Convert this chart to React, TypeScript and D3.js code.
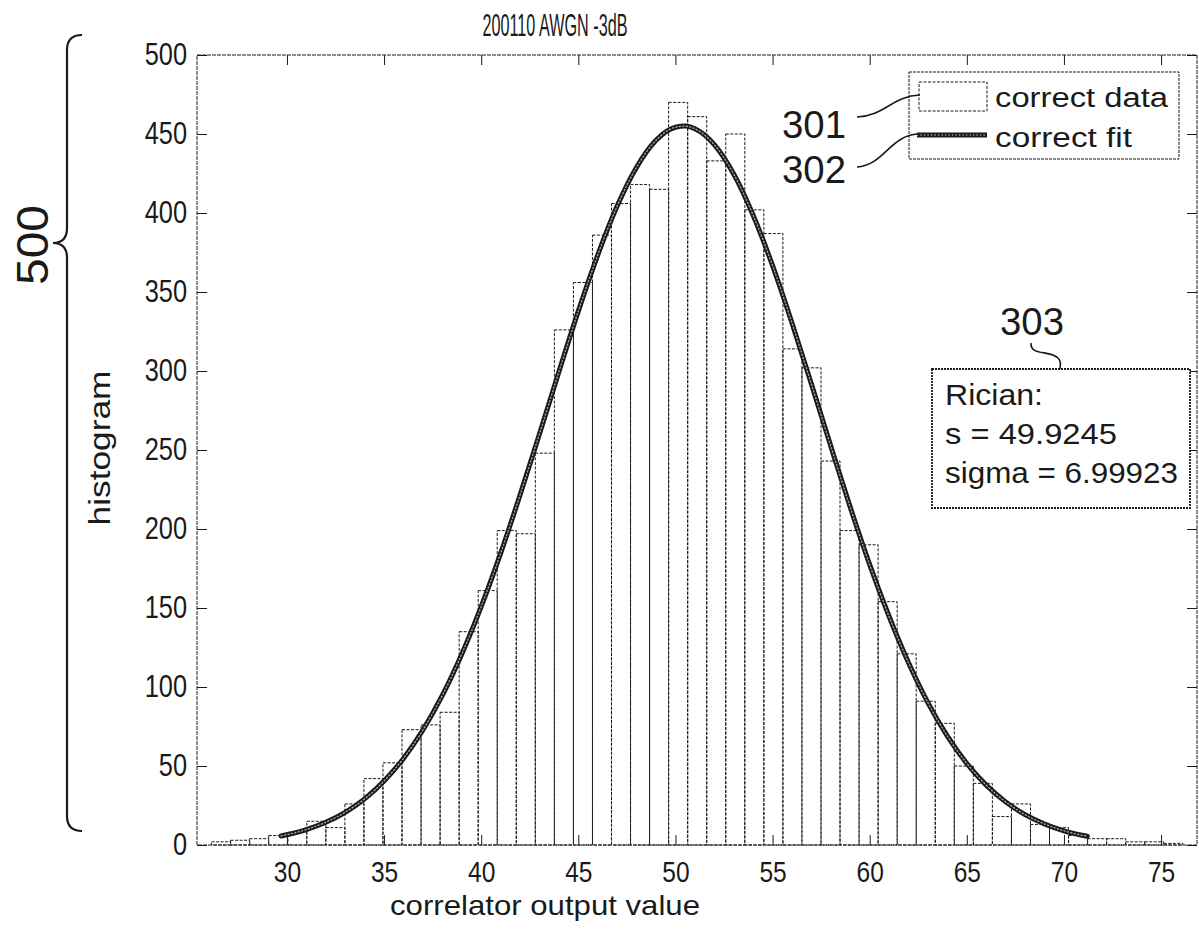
import React, { useEffect, useRef } from 'react';
import * as d3 from 'd3';

// chart text
const title = '200110 AWGN -3dB';
const xLabel = 'correlator output value';
const yLabel = 'histogram';
const braceLabel = '500';
const legendLabels = ['correct data', 'correct fit'];
const calloutLabels = ['301', '302', '303'];
const ricianLines = ['Rician:', 's = 49.9245', 'sigma = 6.99923'];

// axes
const xTicks = [30, 35, 40, 45, 50, 55, 60, 65, 70, 75];
const yTicks = [0, 50, 100, 150, 200, 250, 300, 350, 400, 450, 500];
const xDomain = [25.37, 76.85];
const yDomain = [0, 500];

// histogram: 51 equal bins starting at binStart
const binStart = 26.12;
const binWidth = 0.9804;
const counts = [
  2, 3, 4, 6, 8, 15, 11, 26, 42, 52,
  73, 76, 84, 135, 161, 199, 197, 248, 326, 356,
  386, 406, 418, 415, 470, 461, 433, 450, 402, 387,
  314, 302, 243, 199, 190, 154, 121, 91, 77, 50,
  39, 18, 26, 13, 11, 6, 4, 4, 2, 2, 1,
];

// fitted curve
const fitX = [
  29.7, 31, 32, 33, 34, 35, 36, 37, 38, 39, 40, 41, 42, 43, 44, 45, 46, 47, 48, 49, 50,
  50.5, 51, 52, 53, 54, 55, 56, 57, 58, 59, 60, 61, 62, 63, 64, 65, 66, 67, 68, 69, 70, 71, 71.2,
];
const fitY = [
  5.7, 9.8, 14.4, 20.7, 29.2, 40.5, 54.8, 72.8, 94.7, 120.8, 150.9, 184.6, 221.5, 260.2, 299.5,
  337.9, 373.4, 404.4, 429, 446, 454.3, 455, 453.3, 443.3, 424.7, 398.6, 366.7, 330.4, 291.7,
  252.3, 213.7, 177.4, 144.6, 115.3, 90, 68.9, 51.6, 37.9, 27.3, 19.2, 13.3, 9, 6, 5.5,
];

const W = 1199;
const H = 931;
const box = { left: 197, top: 55, right: 1197, bottom: 845 };
const ink = '#1a1a1a';
const sans = "'Liberation Sans', Arial, sans-serif";

// the drawing uses a tall, condensed face: squeeze plain sans to a fixed width
const narrowLen = (s: string, size: number) => s.length * size * 0.455;

function fitStroke(sel: d3.Selection<any, any, any, any>) {
  // thick line made of tiny circle markers
  sel.attr('stroke', ink).attr('stroke-width', 5);
  sel.clone()
    .attr('stroke', '#a8a8a8').attr('stroke-width', 1.3)
    .attr('stroke-dasharray', '1.2,2.3');
}

export default function App() {
  const ref = useRef<SVGSVGElement>(null);

  useEffect(() => {
    const svg = d3.select(ref.current);
    svg.selectAll('*').remove();

    const x = d3.scaleLinear().domain(xDomain).range([box.left, box.right]);
    const y = d3.scaleLinear().domain(yDomain).range([box.bottom, box.top]);

    svg.append('rect').attr('width', W).attr('height', H).attr('fill', '#fff');

    // histogram bars
    svg.append('g')
      .selectAll('rect')
      .data(counts)
      .join('rect')
      .attr('x', (_, i) => x(binStart + i * binWidth))
      .attr('width', (_, i) => x(binStart + (i + 1) * binWidth) - x(binStart + i * binWidth))
      .attr('y', d => y(d))
      .attr('height', d => y(0) - y(d))
      .attr('fill', 'none')
      .attr('stroke', ink)
      .attr('stroke-width', 1)
      .attr('stroke-dasharray', '3,1.5');

    // fit curve
    const line = d3.line<number>()
      .x((_, i) => x(fitX[i]))
      .y(d => y(d))
      .curve(d3.curveMonotoneX);
    const fit = svg.append('path')
      .attr('d', line(fitY))
      .attr('fill', 'none')
      .attr('stroke-linecap', 'round');
    fitStroke(fit);

    // axes
    const axisStyle = (g: d3.Selection<SVGGElement, unknown, null, undefined>) => {
      g.select('.domain').remove();
      g.selectAll('.tick line').attr('stroke', ink).attr('stroke-width', 1);
    };

    svg.append('g')
      .attr('transform', `translate(${box.left},0)`)
      .call(d3.axisLeft(y).tickValues(yTicks).tickSizeInner(-10).tickSizeOuter(0).tickPadding(10))
      .call(axisStyle)
      .selectAll<SVGTextElement, number>('text')
      .attr('font-family', sans)
      .attr('font-size', 31)
      .attr('textLength', d => narrowLen(String(d), 31))
      .attr('lengthAdjust', 'spacingAndGlyphs')
      .attr('fill', ink);

    svg.append('g')
      .attr('transform', `translate(${box.right},0)`)
      .call(d3.axisRight(y).tickValues(yTicks).tickSizeInner(-10).tickSizeOuter(0).tickFormat(() => ''))
      .call(axisStyle);

    svg.append('g')
      .attr('transform', `translate(0,${box.bottom})`)
      .call(d3.axisBottom(x).tickValues(xTicks).tickSizeInner(-10).tickSizeOuter(0).tickPadding(16))
      .call(axisStyle)
      .selectAll<SVGTextElement, number>('text')
      .attr('font-family', sans)
      .attr('font-size', 29)
      .attr('textLength', d => narrowLen(String(d), 30))
      .attr('lengthAdjust', 'spacingAndGlyphs')
      .attr('fill', ink);

    svg.append('g')
      .attr('transform', `translate(0,${box.top})`)
      .call(d3.axisTop(x).tickValues(xTicks).tickSizeInner(-10).tickSizeOuter(0).tickFormat(() => ''))
      .call(axisStyle);

    svg.append('rect')
      .attr('x', box.left).attr('y', box.top)
      .attr('width', box.right - box.left).attr('height', box.bottom - box.top)
      .attr('fill', 'none').attr('stroke', ink).attr('stroke-width', 1)
      .attr('stroke-dasharray', '4,1');

    // title and axis labels
    svg.append('text')
      .attr('x', 555).attr('y', 36)
      .attr('text-anchor', 'middle')
      .attr('font-family', sans).attr('font-size', 31)
      .attr('textLength', 145).attr('lengthAdjust', 'spacingAndGlyphs')
      .attr('fill', ink)
      .text(title);

    svg.append('text')
      .attr('x', 545).attr('y', 915)
      .attr('text-anchor', 'middle')
      .attr('font-family', sans).attr('font-size', 28)
      .attr('textLength', 310).attr('lengthAdjust', 'spacingAndGlyphs')
      .attr('fill', ink)
      .text(xLabel);

    svg.append('text')
      .attr('transform', 'translate(110,448) rotate(-90)')
      .attr('text-anchor', 'middle')
      .attr('font-family', sans).attr('font-size', 29)
      .attr('textLength', 155).attr('lengthAdjust', 'spacingAndGlyphs')
      .attr('fill', ink)
      .text(yLabel);

    // brace spanning the y range
    svg.append('path')
      .attr('d', 'M82,35 Q67,35 67,50 L67,228 Q67,243 53,243 Q67,243 67,258 L67,816 Q67,831 82,831')
      .attr('fill', 'none').attr('stroke', ink).attr('stroke-width', 2.2);
    svg.append('text')
      .attr('transform', 'translate(48,245) rotate(-90)')
      .attr('text-anchor', 'middle')
      .attr('font-family', sans).attr('font-size', 44)
      .attr('textLength', 80).attr('lengthAdjust', 'spacingAndGlyphs')
      .attr('fill', ink)
      .text(braceLabel);

    // legend
    const lg = svg.append('g');
    lg.append('rect')
      .attr('x', 909).attr('y', 72).attr('width', 270).attr('height', 87)
      .attr('fill', '#fff').attr('stroke', ink).attr('stroke-dasharray', '3,1');
    lg.append('rect')
      .attr('x', 919).attr('y', 82).attr('width', 68).attr('height', 29)
      .attr('fill', 'none').attr('stroke', ink).attr('stroke-dasharray', '3,1.5');
    const legLine = lg.append('path')
      .attr('d', 'M917,135 L987,135').attr('fill', 'none');
    fitStroke(legLine);
    lg.selectAll('text.leg')
      .data(legendLabels)
      .join('text')
      .attr('class', 'leg')
      .attr('x', 995)
      .attr('y', (_, i) => 107 + i * 40)
      .attr('font-family', sans).attr('font-size', 27)
      .attr('textLength', (_, i) => (i === 0 ? 173 : 137)).attr('lengthAdjust', 'spacingAndGlyphs')
      .attr('fill', ink)
      .text(d => d);

    // callouts
    const calloutPos = [[814, 138], [814, 183], [1032, 335]];
    svg.selectAll('text.callout')
      .data(calloutLabels)
      .join('text')
      .attr('class', 'callout')
      .attr('x', (_, i) => calloutPos[i][0]).attr('y', (_, i) => calloutPos[i][1])
      .attr('text-anchor', 'middle')
      .attr('font-family', sans).attr('font-size', 39)
      .attr('textLength', 64).attr('lengthAdjust', 'spacingAndGlyphs')
      .attr('fill', ink)
      .text(d => d);
    const leaders = [
      'M857,117 C885,116 892,96 920,95',
      'M857,167 C885,165 890,134 920,134',
      'M1031,343 C1030,356 1050,350 1058,358 C1062,362 1060,366 1060,369',
    ];
    svg.selectAll('path.leader')
      .data(leaders)
      .join('path')
      .attr('class', 'leader')
      .attr('d', d => d)
      .attr('fill', 'none').attr('stroke', ink).attr('stroke-width', 1.6);

    // Rician parameter box
    svg.append('rect')
      .attr('x', 932).attr('y', 369).attr('width', 258).attr('height', 139)
      .attr('fill', '#fff').attr('stroke', ink).attr('stroke-width', 1.8)
      .attr('stroke-dasharray', '2,1');
    const ricianLen = [98, 172, 233];
    svg.selectAll('text.rician')
      .data(ricianLines)
      .join('text')
      .attr('class', 'rician')
      .attr('x', 945)
      .attr('y', (_, i) => 405 + i * 39)
      .attr('font-family', sans).attr('font-size', 29)
      .attr('textLength', (_, i) => ricianLen[i]).attr('lengthAdjust', 'spacingAndGlyphs')
      .attr('fill', ink)
      .text(d => d);
  }, []);

  return (
    <svg
      ref={ref}
      width={W}
      height={H}
      style={{ position: 'absolute', left: 0, top: 0, background: '#fff' }}
    />
  );
}
